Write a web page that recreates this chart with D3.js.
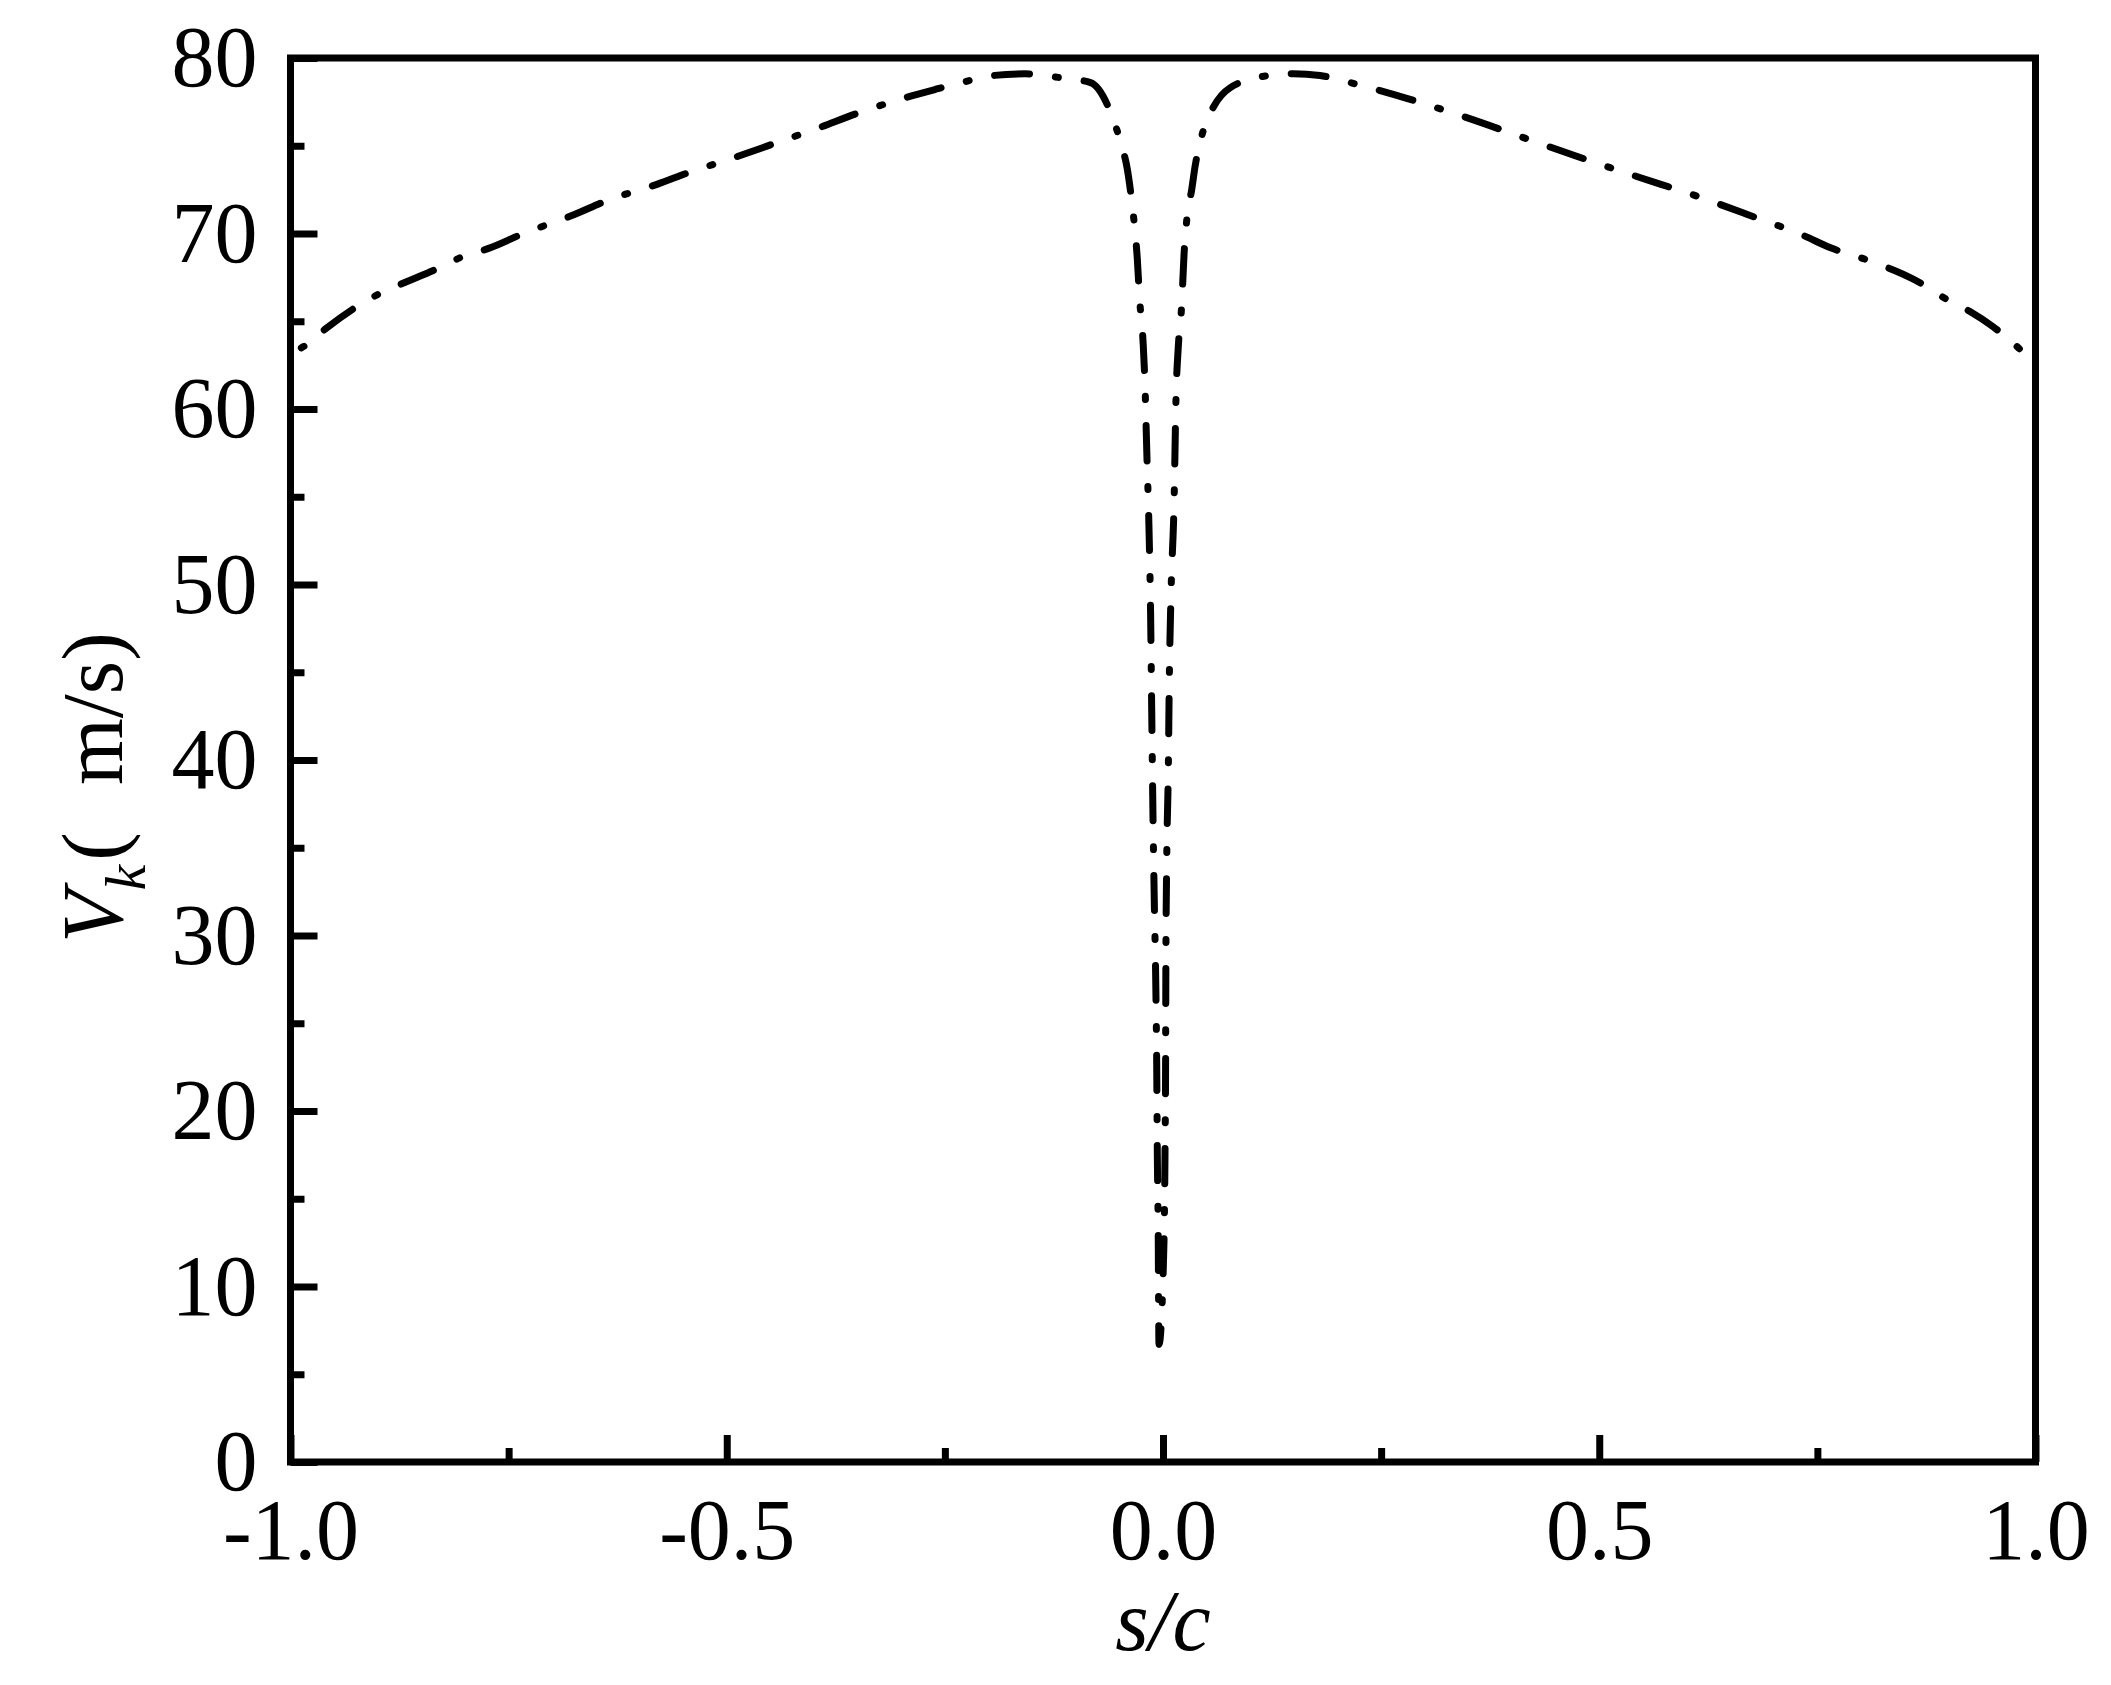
<!DOCTYPE html>
<html>
<head>
<meta charset="utf-8">
<script src="https://cdn.jsdelivr.net/npm/d3@7"></script>
<style>
  html, body { margin: 0; padding: 0; background: #fff; }
  svg { display: block; }
  text { font-family: "Liberation Serif", "Times New Roman", serif; fill: #000; }
</style>
</head>
<body>
<script>
// ---- data ----
const sValues = [
  -1.000, -0.982, -0.959, -0.922, -0.897, -0.867, -0.827, -0.802, -0.773, -0.733,
  -0.676, -0.636, -0.580, -0.542, -0.487, -0.447, -0.393, -0.353, -0.298, -0.258,
  -0.231, -0.200, -0.158, -0.115, -0.083, -0.057, -0.048, -0.041, -0.035, -0.032,
  -0.0295, -0.027, -0.0226, -0.0206, -0.0186, -0.0161, -0.0142, -0.0130, -0.0118, -0.0100,
  -0.0084, -0.0072, -0.0065, -0.0054, -0.0050, -0.0046,
  0.0011, 0.0023, 0.0030, 0.0033, 0.0042, 0.0061, 0.0072, 0.0092, 0.0126, 0.0150,
  0.0176, 0.0214, 0.0241, 0.0278, 0.0329, 0.0367, 0.0470, 0.0577, 0.0768, 0.1207,
  0.1493, 0.1799, 0.2219, 0.2793, 0.3481, 0.4168, 0.4741, 0.5429, 0.6135, 0.6690,
  0.7357, 0.7644, 0.8065, 0.8619, 0.8982, 0.9249, 0.9510, 0.9822, 1.000
];
const vValues = [
  63.2, 63.65, 64.6, 65.9, 66.6, 67.25, 68.1, 68.7, 69.15, 70.0,
  71.05, 71.9, 72.8, 73.5, 74.4, 75.1, 76.05, 76.8, 77.7, 78.25,
  78.6, 78.97, 79.1, 78.86, 78.6, 76.5, 75.1, 73.7, 71.5, 70.1,
  68.6, 66.4, 63.6, 61.3, 57.6, 53.3, 48.3, 43.1, 38.0, 32.0,
  27.7, 22.6, 17.5, 12.4, 8.7, 6.7,
  12.5, 17.6, 23.0, 28.5, 34.0, 39.5, 44.5, 49.5, 54.5, 60.8,
  63.6, 65.9, 68.8, 71.05, 72.5, 73.8, 76.0, 77.2, 78.3, 79.0,
  79.1, 79.0, 78.5, 77.7, 76.6, 75.4, 74.4, 73.25, 72.1, 71.1,
  69.85, 69.2, 68.5, 67.35, 66.25, 65.55, 64.7, 63.4, 62.5
];
const xMajorTicks = [-1.0, -0.5, 0.0, 0.5, 1.0];
const xMinorTicks = [-0.75, -0.25, 0.25, 0.75];
const yMajorTicks = [0, 10, 20, 30, 40, 50, 60, 70, 80];
const yMinorTicks = [5, 15, 25, 35, 45, 55, 65, 75];
const xDomain = [-1, 1];
const yDomain = [0, 80];
const xTitle = "s/c";
const yTitleMain = "V";
const yTitleSub = "k";
const yTitleOpen = "(";
const yTitleUnit = "m/s)";

// ---- layout ----
const W = 2111, H = 1685;
const plotL = 290.5, plotR = 2035.5, plotT = 58, plotB = 1462;
const fontSize = 86;

const svg = d3.select("body").append("svg")
  .attr("width", W).attr("height", H)
  .attr("viewBox", `0 0 ${W} ${H}`);
svg.append("rect").attr("width", W).attr("height", H).attr("fill", "#fff");

const x = d3.scaleLinear().domain(xDomain).range([plotL, plotR]);
const y = d3.scaleLinear().domain(yDomain).range([plotB, plotT]);

const fmtX = d => d.toFixed(1);
const fmtY = d => String(d);

function styleAxis(g) {
  g.select(".domain").remove();
  g.selectAll(".tick line").attr("stroke", "#000").attr("stroke-width", 7);
  g.selectAll(".tick text").attr("font-size", fontSize).attr("fill", "#000")
    .attr("font-family", '"Liberation Serif", "Times New Roman", serif');
}

// x axis major
svg.append("g").attr("transform", `translate(0,${plotB})`)
  .call(d3.axisBottom(x).tickValues(xMajorTicks).tickFormat(fmtX)
    .tickSizeInner(-27).tickSizeOuter(0).tickPadding(36))
  .call(styleAxis);
// x axis minor
svg.append("g").attr("transform", `translate(0,${plotB})`)
  .call(d3.axisBottom(x).tickValues(xMinorTicks).tickFormat(() => "")
    .tickSizeInner(-14).tickSizeOuter(0))
  .call(styleAxis);
// y axis major
svg.append("g").attr("transform", `translate(${plotL},0)`)
  .call(d3.axisLeft(y).tickValues(yMajorTicks).tickFormat(fmtY)
    .tickSizeInner(-27).tickSizeOuter(0).tickPadding(33))
  .call(styleAxis);
// y axis minor
svg.append("g").attr("transform", `translate(${plotL},0)`)
  .call(d3.axisLeft(y).tickValues(yMinorTicks).tickFormat(() => "")
    .tickSizeInner(-14).tickSizeOuter(0))
  .call(styleAxis);

// frame
svg.append("rect")
  .attr("x", plotL).attr("y", plotT)
  .attr("width", plotR - plotL).attr("height", plotB - plotT)
  .attr("fill", "none").attr("stroke", "#000").attr("stroke-width", 7)
  .attr("stroke-linejoin", "miter");

// curve
const pts = sValues.map((s, i) => [s, vValues[i]]);
const line = d3.line().x(d => x(d[0])).y(d => y(d[1])).curve(d3.curveMonotoneX);
svg.append("path")
  .attr("d", line(pts))
  .attr("fill", "none")
  .attr("stroke", "#000")
  .attr("stroke-width", 7)
  .attr("stroke-linecap", "round")
  .attr("stroke-linejoin", "round")
  .attr("stroke-dasharray", "35,26,3,26")
  .attr("stroke-dashoffset", 49);

// x title
svg.append("text")
  .attr("x", (plotL + plotR) / 2)
  .attr("y", 1650)
  .attr("text-anchor", "middle")
  .attr("font-size", fontSize)
  .attr("font-style", "italic")
  .text(xTitle);

// y title
const yt = svg.append("text")
  .attr("transform", `translate(122,943) rotate(-90)`)
  .attr("text-anchor", "start")
  .attr("font-size", fontSize);
yt.append("tspan").attr("font-style", "italic").text(yTitleMain);
yt.append("tspan").attr("font-style", "italic").attr("font-size", 58)
  .attr("dy", 23).text(yTitleSub);
yt.append("tspan").attr("dy", -23).attr("dx", 4).text(yTitleOpen);
yt.append("tspan").attr("dx", 47).text(yTitleUnit);
</script>
</body>
</html>
